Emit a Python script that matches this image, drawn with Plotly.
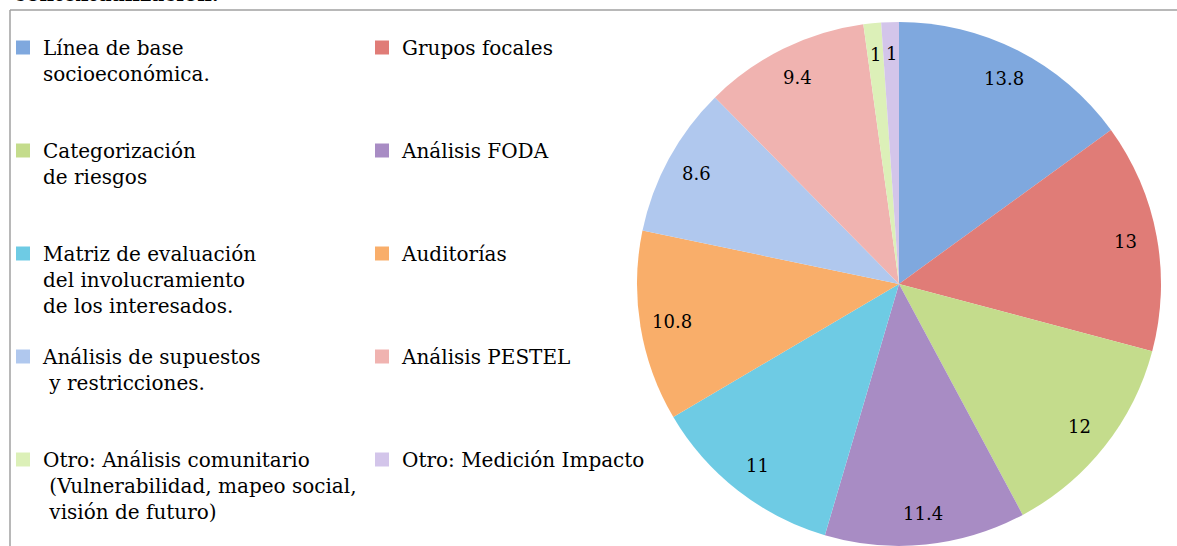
import plotly.graph_objects as go
import math

# slices, clockwise from 12 o'clock
labels = ["Línea de base socioeconómica.", "Grupos focales", "Categorización de riesgos",
          "Análisis FODA", "Matriz de evaluación del involucramiento de los interesados.",
          "Auditorías", "Análisis de supuestos y restricciones.", "Análisis PESTEL",
          "Otro: Análisis comunitario (Vulnerabilidad, mapeo social, visión de futuro)",
          "Otro: Medición Impacto"]
legend_text = ["Línea de base<br>socioeconómica.", "Grupos focales",
               "Categorización<br>de riesgos", "Análisis FODA",
               "Matriz de evaluación<br>del involucramiento<br>de los interesados.", "Auditorías",
               "Análisis de supuestos<br>\u00a0y restricciones.", "Análisis PESTEL",
               "Otro: Análisis comunitario<br>\u00a0(Vulnerabilidad, mapeo social,<br>\u00a0visión de futuro)",
               "Otro: Medición Impacto"]
values = [13.8, 13, 12, 11.4, 11, 10.8, 8.6, 9.4, 1, 1]
colors = ["#7fa8de", "#e07c77", "#c4dc8c", "#a88cc4", "#6ecbe4",
          "#f9ae6a", "#b0c8ee", "#f0b3b0", "#dcf0b8", "#d3c5ea"]

W, H = 1177, 546
FONT = "DejaVu Serif"

# pie placement (paper coords)
cx, cy = 899 / W, 0.48
r_px = 262
dom_x = [cx - r_px / W, cx + r_px / W]
dom_y = [cy - r_px / H, cy + r_px / H]

fig = go.Figure()
fig.add_trace(go.Pie(
    labels=labels, values=values, sort=False, direction="clockwise", rotation=0,
    textinfo="none", marker=dict(colors=colors, line=dict(width=0)),
    domain=dict(x=dom_x, y=dom_y), showlegend=False, hoverinfo="label+value"
))

# legend entries in two columns
for i, t in enumerate(legend_text):
    nl = t.count("<br>") + 1
    t = t + "<br>\u00a0" * (3 - nl)
    fig.add_trace(go.Scatter(
        x=[None], y=[None], mode="markers", name=t,
        marker=dict(symbol="square", size=14, color=colors[i]),
        legend="legend" if i % 2 == 0 else "legend2", legendgroup="g" + str(i)
    ))

# value labels, placed near the rim of each slice
total = sum(values)
cum = 0
for v in values:
    th = (cum + v / 2) / total * 2 * math.pi
    cum += v
    fig.add_annotation(
        x=cx + 0.88 * r_px / W * math.sin(th), y=cy + 0.88 * r_px / H * math.cos(th),
        xref="paper", yref="paper", xanchor="center", yanchor="middle",
        text=f"{v:g}", showarrow=False,
        font=dict(family=FONT, size=18, color="black")
    )

# cut-off heading above the frame
fig.add_annotation(x=12 / W, y=1 + 6 / H, xref="paper", yref="paper", xanchor="left",
                   yanchor="middle", text="<b>contextualización.</b>", showarrow=False,
                   font=dict(family=FONT, size=20, color="black"))

# frame
fig.add_shape(type="line", xref="paper", yref="paper", x0=10 / W, x1=1, y0=1 - 10 / H, y1=1 - 10 / H,
              line=dict(color="#a0a0a0", width=1.5))
fig.add_shape(type="line", xref="paper", yref="paper", x0=10 / W, x1=10 / W, y0=0, y1=1 - 10 / H,
              line=dict(color="#a0a0a0", width=1.5))

leg = dict(xanchor="left", yanchor="top", y=1 - 28 / H, valign="top", tracegroupgap=22,
           bgcolor="rgba(0,0,0,0)", font=dict(family=FONT, size=20, color="black"))
fig.update_layout(
    width=W, height=H, margin=dict(l=0, r=0, t=0, b=0),
    paper_bgcolor="white", plot_bgcolor="white",
    xaxis=dict(visible=False), yaxis=dict(visible=False),
    legend=dict(leg, x=3 / W),
    legend2=dict(leg, x=362 / W),
)
fig.write_html("out.html", config={"displayModeBar": False},
               post_script="document.body.style.margin = '0';")
